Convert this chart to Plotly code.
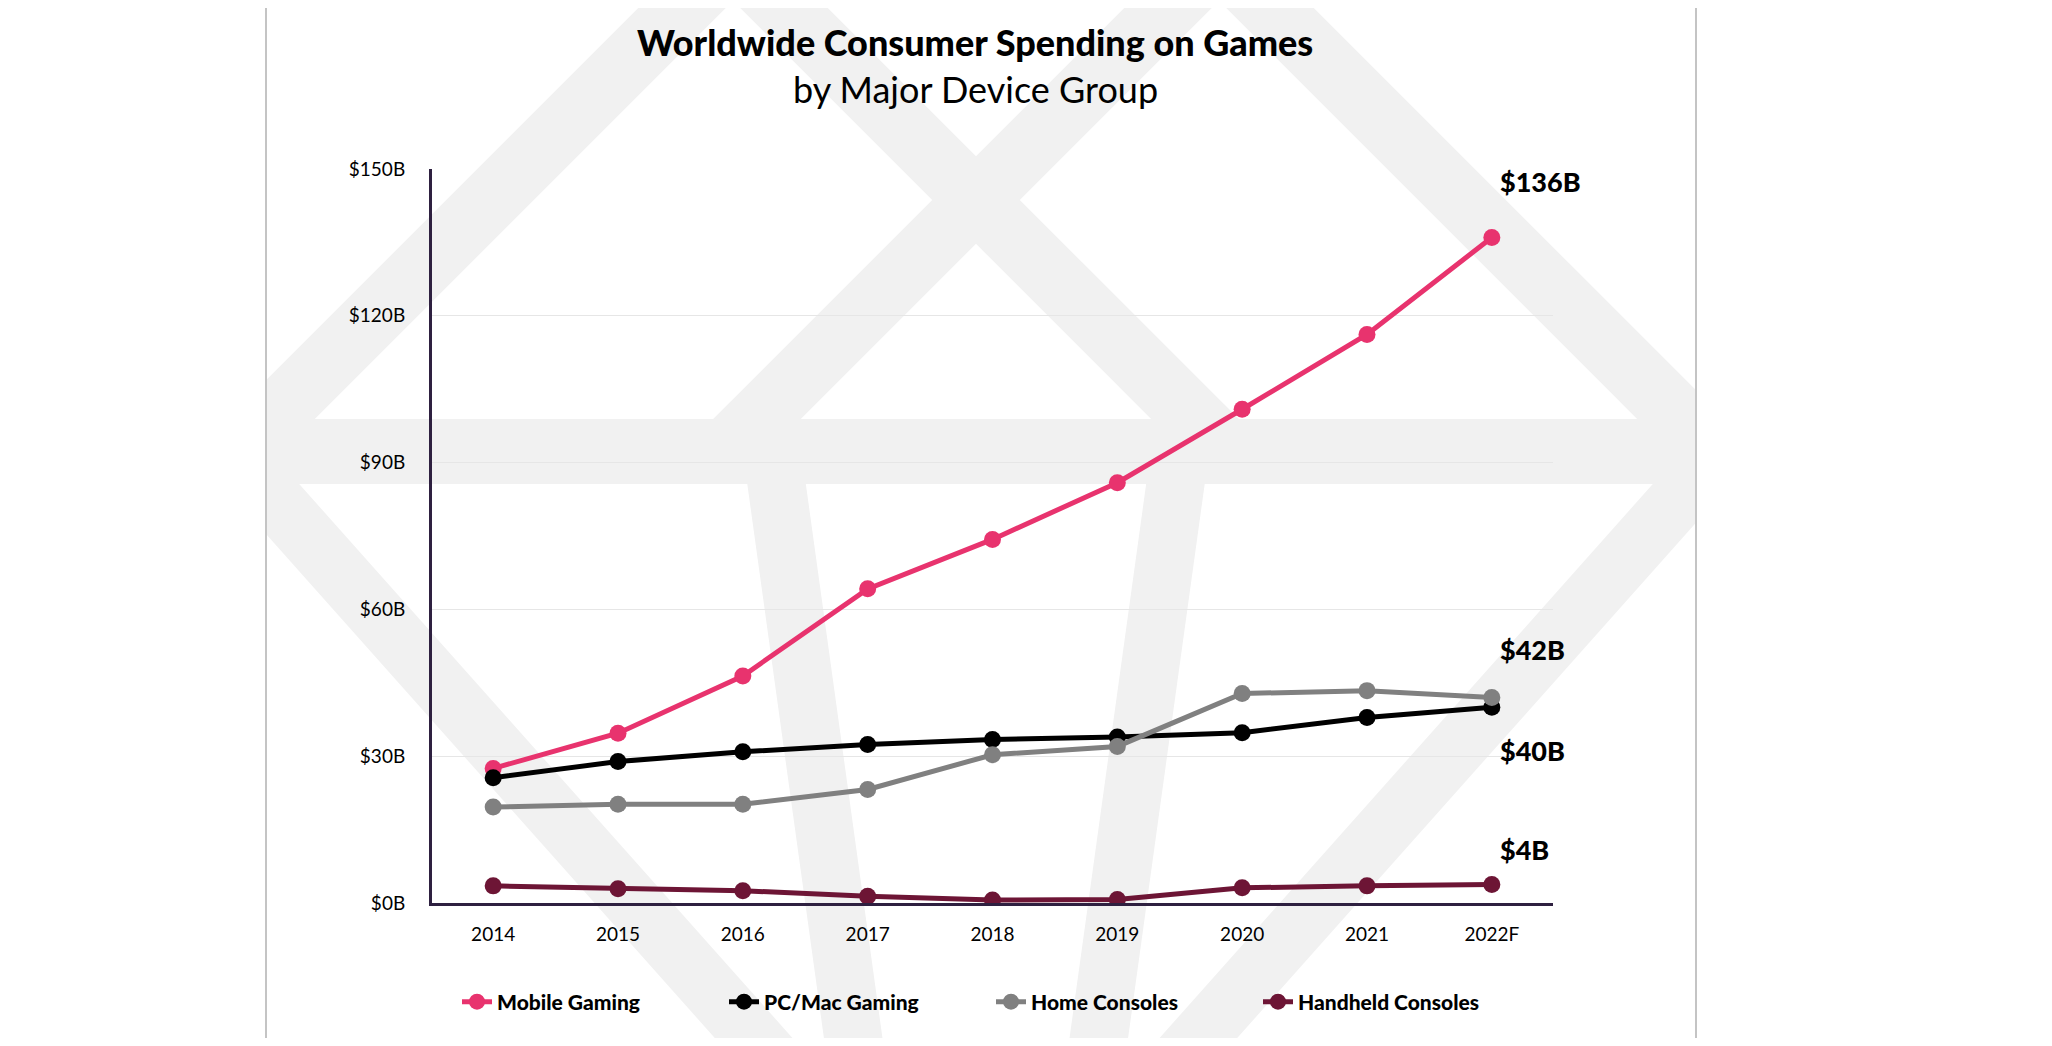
import plotly.graph_objects as go

# ---------------- data ----------------
years = ["2014", "2015", "2016", "2017", "2018", "2019", "2020", "2021", "2022F"]
mobile = [27.5, 34.7, 46.4, 64.2, 74.3, 85.9, 100.9, 116.2, 136.0]
pc_mac = [25.6, 28.9, 30.9, 32.4, 33.4, 33.9, 34.8, 37.9, 40.0]
home = [19.6, 20.2, 20.2, 23.2, 30.3, 32.0, 42.8, 43.4, 42.0]
handheld = [3.5, 2.9, 2.5, 1.4, 0.6, 0.7, 3.1, 3.5, 3.8]
series_names = ["Mobile Gaming", "PC/Mac Gaming", "Home Consoles", "Handheld Consoles"]
series_values = [mobile, pc_mac, home, handheld]
series_colors = ["#e8336e", "#000000", "#808080", "#6d1535"]
end_labels = ["$136B", "$40B", "$42B", "$4B"]
end_label_yshift = [56, -43, 48, 35]
y_tickvals = [0, 30, 60, 90, 120, 150]
y_ticktext = ["$0B", "$30B", "$60B", "$90B", "$120B", "$150B"]

FONT = "Lato"
OFF = 8  # page body margin
W, H = 2036, 1030
L, T = 424, 161
PW, PH = 1121, 734
R, B = W - L - PW, H - T - PH


def px(x):
    # x given in page pixel coordinates
    return (x - OFF - L) / PW


def py(y):
    return (T + PH - (y - OFF)) / PH


fig = go.Figure()
for name, vals, col in zip(series_names, series_values, series_colors):
    fig.add_trace(go.Scatter(
        x=years, y=vals, name=name, mode="lines+markers",
        line=dict(color=col, width=5),
        marker=dict(color=col, size=17),
    ))

# end-of-line labels
for vals, lab, ys in zip(series_values, end_labels, end_label_yshift):
    fig.add_annotation(x=years[-1], y=vals[-1], text=lab,
                       showarrow=False, xanchor="left", yanchor="middle",
                       xshift=6, yshift=ys,
                       font=dict(family=FONT, size=27, color="#000000", weight=900))

# titles
fig.add_annotation(x=px(975), y=py(42), xref="paper", yref="paper",
                   text="Worldwide Consumer Spending on Games", showarrow=False,
                   xanchor="center", yanchor="middle",
                   font=dict(family=FONT, size=36, color="#000000", weight=900))
fig.add_annotation(x=px(975), y=py(89), xref="paper", yref="paper",
                   text="by Major Device Group", showarrow=False,
                   xanchor="center", yanchor="middle",
                   font=dict(family=FONT, size=36, color="#000000"))

# ---------------- watermark (decorative) ----------------
wm = "#f1f1f1"
bands = [
    ((720, -30), (230, 460), 62),
    ((746, -30), (1227, 451), 62),
    ((1206, -30), (725, 451), 62),
    ((1232, -30), (1722, 460), 62),
    ((231, 451), (791, 1080), 58),
    ((772, 451), (859, 1080), 58),
    ((1180, 451), (1093, 1080), 58),
    ((1721, 451), (1161, 1080), 58),
]
shapes = []
for (x0, y0), (x1, y1), w in bands:
    shapes.append(dict(type="line", xref="paper", yref="paper",
                       x0=px(x0), y0=py(y0), x1=px(x1), y1=py(y1),
                       line=dict(color=wm, width=w), layer="below"))
shapes.append(dict(type="rect", xref="paper", yref="paper",
                   x0=px(200), x1=px(1760), y0=py(419), y1=py(484),
                   fillcolor=wm, line=dict(width=0), layer="below"))
# white outside the card
shapes.append(dict(type="rect", xref="paper", yref="paper",
                   x0=px(-20), x1=px(265), y0=py(-20), y1=py(1070),
                   fillcolor="#ffffff", line=dict(width=0), layer="below"))
shapes.append(dict(type="rect", xref="paper", yref="paper",
                   x0=px(1697), x1=px(2070), y0=py(-20), y1=py(1070),
                   fillcolor="#ffffff", line=dict(width=0), layer="below"))
# card borders
for xb in (266, 1696):
    shapes.append(dict(type="line", xref="paper", yref="paper",
                       x0=px(xb), x1=px(xb), y0=py(-10), y1=py(1060),
                       line=dict(color="#c4c4c4", width=2), layer="below"))

fig.update_layout(
    width=W, height=H,
    margin=dict(l=L, r=R, t=T, b=B, pad=0, autoexpand=False),
    paper_bgcolor="#ffffff", plot_bgcolor="rgba(0,0,0,0)",
    shapes=shapes,
    showlegend=True,
    legend=dict(orientation="h", x=px(457), y=py(1002), xanchor="left", yanchor="middle",
                entrywidth=222, entrywidthmode="pixels",
                font=dict(family=FONT, size=21, color="#000000", weight=900),
                bgcolor="rgba(0,0,0,0)", traceorder="normal", itemclick=False),
    font=dict(family=FONT, color="#000000"),
    xaxis=dict(type="category", range=[-0.49, 8.49], showgrid=False,
               showline=True, linecolor="#2e2040", linewidth=3,
               ticks="", ticklabelstandoff=12, tickfont=dict(family=FONT, size=19, color="#000000"),
               zeroline=False, fixedrange=True),
    yaxis=dict(range=[0, 150], tickvals=y_tickvals, ticktext=y_ticktext,
               showgrid=True, gridcolor="#e6e6e6", gridwidth=1,
               showline=True, linecolor="#2e2040", linewidth=3,
               ticks="", ticklabelstandoff=20, tickfont=dict(family=FONT, size=19, color="#000000"),
               zeroline=False, fixedrange=True),
)

fig.write_html("out.html")
